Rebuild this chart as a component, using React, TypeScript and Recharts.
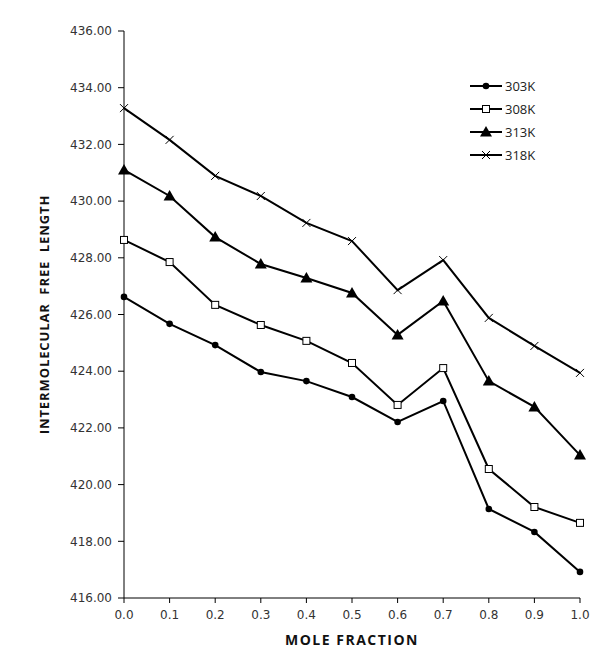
import React from 'react';
import { LineChart, Line, XAxis, YAxis } from 'recharts';

const moleFractions = [0.0, 0.1, 0.2, 0.3, 0.4, 0.5, 0.6, 0.7, 0.8, 0.9, 1.0];
const k303 = [426.62, 425.67, 424.92, 423.97, 423.65, 423.09, 422.21, 422.95, 419.14, 418.33, 416.92];
const k308 = [428.63, 427.85, 426.34, 425.63, 425.07, 424.29, 422.81, 424.11, 420.55, 419.21, 418.65];
const k313 = [431.1, 430.18, 428.73, 427.78, 427.29, 426.76, 425.28, 426.48, 423.65, 422.74, 421.04];
const k318 = [433.28, 432.16, 430.89, 430.18, 429.23, 428.59, 426.86, 427.92, 425.88, 424.89, 423.94];
const yTicks = [416, 418, 420, 422, 424, 426, 428, 430, 432, 434, 436];
const xTicks = moleFractions;

const data = moleFractions.map((x, i) => ({
  x,
  k303: k303[i],
  k308: k308[i],
  k313: k313[i],
  k318: k318[i],
}));

const DiamondDot = (props: any) => {
  const { cx, cy } = props;
  if (cx == null || cy == null) return null;
  return <circle cx={cx} cy={cy} r={3.3} fill="#000" />;
};
const SquareDot = (props: any) => {
  const { cx, cy } = props;
  if (cx == null || cy == null) return null;
  return <rect x={cx - 3.5} y={cy - 3.5} width={7} height={7} fill="#fff" stroke="#000" strokeWidth={1} />;
};
const TriangleDot = (props: any) => {
  const { cx, cy } = props;
  if (cx == null || cy == null) return null;
  return <polygon points={`${cx},${cy - 6} ${cx - 6},${cy + 4.5} ${cx + 6},${cy + 4.5}`} fill="#000" />;
};
const CrossDot = (props: any) => {
  const { cx, cy } = props;
  if (cx == null || cy == null) return null;
  return (
    <g stroke="#000" strokeWidth={1}>
      <line x1={cx - 4} y1={cy - 4} x2={cx + 4} y2={cy + 4} />
      <line x1={cx - 4} y1={cy + 4} x2={cx + 4} y2={cy - 4} />
    </g>
  );
};

const series = [
  { key: 'k303', name: '303K', Dot: DiamondDot },
  { key: 'k308', name: '308K', Dot: SquareDot },
  { key: 'k313', name: '313K', Dot: TriangleDot },
  { key: 'k318', name: '318K', Dot: CrossDot },
];

const LegendBox = () => (
  <svg width={120} height={100} style={{ position: 'absolute', left: 468, top: 75 }}>
    {series.map((s, i) => {
      const y = 11 + i * 23;
      const D = s.Dot;
      return (
        <g key={s.key}>
          <line x1={2} y1={y} x2={34} y2={y} stroke="#000" strokeWidth={2} />
          <D cx={18} cy={y} />
          <text x={37} y={y + 4.5} fontSize={13} fontFamily="'Open Sans', sans-serif" fill="#222">
            {s.name}
          </text>
        </g>
      );
    })}
  </svg>
);

export default function App() {
  return (
    <div style={{ position: 'absolute', left: 0, top: 0, width: 611, height: 660, background: '#fff' }}>
      <LineChart width={611} height={660} data={data} margin={{ top: 31, right: 31, bottom: 32, left: 0 }}>
        <XAxis
          dataKey="x"
          type="number"
          domain={[0, 1]}
          ticks={xTicks}
          tickFormatter={(v: number) => v.toFixed(1)}
          stroke="#000"
          tickSize={5}
          tickMargin={7}
          tick={{ fontSize: 12, fill: '#333', fontFamily: "'DejaVu Sans', sans-serif" }}
          label={{
            value: 'MOLE FRACTION',
            position: 'insideBottom',
            offset: -17,
            style: { fontSize: 14, fontWeight: 700, fill: '#111', fontFamily: "'Open Sans', sans-serif", letterSpacing: 1.5 },
          }}
        />
        <YAxis
          type="number"
          domain={[416, 436]}
          ticks={yTicks}
          tickFormatter={(v: number) => v.toFixed(2)}
          width={124}
          stroke="#000"
          tickSize={6}
          tickMargin={6}
          tick={{ fontSize: 12, fill: '#333', fontFamily: "'DejaVu Sans', sans-serif" }}
          label={{
            value: 'INTERMOLECULAR\u00a0\u00a0FREE\u00a0\u00a0LENGTH',
            angle: -90,
            position: 'insideLeft',
            offset: 44,
            style: { fontSize: 13, fontWeight: 700, fill: '#111', fontFamily: "'Open Sans', sans-serif", textAnchor: 'middle', letterSpacing: 0.9 },
          }}
        />
        {series.map((s) => (
          <Line
            key={s.key}
            dataKey={s.key}
            name={s.name}
            stroke="#000"
            strokeWidth={2}
            dot={<s.Dot />}
            activeDot={false}
            isAnimationActive={false}
          />
        ))}
      </LineChart>
      <LegendBox />
    </div>
  );
}
